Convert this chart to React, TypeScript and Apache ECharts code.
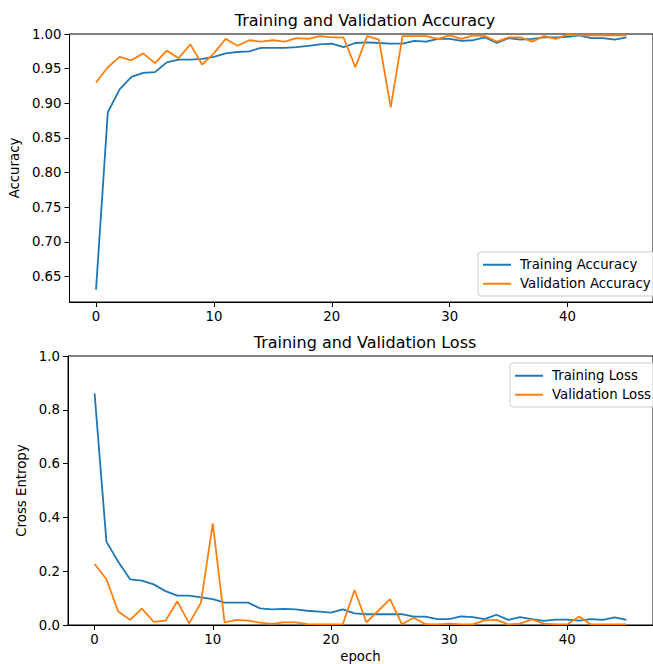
import React, { useEffect, useRef } from "react";
import * as echarts from "echarts";

const epochs = [0, 1, 2, 3, 4, 5, 6, 7, 8, 9, 10, 11, 12, 13, 14, 15, 16, 17, 18, 19, 20, 21, 22, 23, 24, 25, 26, 27, 28, 29, 30, 31, 32, 33, 34, 35, 36, 37, 38, 39, 40, 41, 42, 43, 44, 45];

const trainAcc = [0.631, 0.887, 0.920, 0.938, 0.944, 0.945, 0.959, 0.963, 0.963, 0.964, 0.967, 0.972, 0.974, 0.975, 0.980, 0.980, 0.980, 0.981, 0.983, 0.985, 0.986, 0.981, 0.987, 0.988, 0.987, 0.986, 0.986, 0.990, 0.989, 0.993, 0.993, 0.990, 0.991, 0.995, 0.987, 0.994, 0.992, 0.993, 0.995, 0.995, 0.996, 0.998, 0.994, 0.994, 0.992, 0.995];
const valAcc = [0.930, 0.952, 0.967, 0.962, 0.972, 0.958, 0.976, 0.965, 0.985, 0.956, 0.972, 0.993, 0.983, 0.991, 0.989, 0.991, 0.989, 0.994, 0.993, 0.997, 0.995, 0.995, 0.952, 0.997, 0.992, 0.894, 0.997, 0.997, 0.997, 0.993, 0.998, 0.993, 0.998, 0.997, 0.989, 0.995, 0.995, 0.989, 0.997, 0.993, 0.999, 0.998, 0.998, 0.998, 0.998, 0.998];
const trainLoss = [0.861, 0.310, 0.235, 0.170, 0.165, 0.151, 0.126, 0.109, 0.109, 0.103, 0.096, 0.083, 0.083, 0.083, 0.062, 0.058, 0.060, 0.058, 0.053, 0.050, 0.046, 0.058, 0.043, 0.040, 0.040, 0.040, 0.040, 0.031, 0.031, 0.022, 0.022, 0.032, 0.029, 0.022, 0.038, 0.019, 0.029, 0.022, 0.015, 0.020, 0.020, 0.016, 0.022, 0.019, 0.028, 0.019];
const valLoss = [0.227, 0.170, 0.050, 0.019, 0.061, 0.012, 0.016, 0.088, 0.006, 0.083, 0.378, 0.010, 0.019, 0.016, 0.009, 0.004, 0.010, 0.010, 0.003, 0.002, 0.002, 0.003, 0.130, 0.010, 0.053, 0.096, 0.003, 0.027, 0.003, 0.002, 0.005, 0.002, 0.002, 0.017, 0.019, 0.002, 0.005, 0.021, 0.005, 0.002, 0.002, 0.032, 0.002, 0.002, 0.002, 0.002];

const xTicks = [0, 10, 20, 30, 40];
const accTicks = [0.65, 0.7, 0.75, 0.8, 0.85, 0.9, 0.95, 1.0];

const FONT = "DejaVu Sans";
const FS = 13.3;
const BLUE = "#1f77b4";
const ORANGE = "#ff7f0e";

export default function App() {
  const ref = useRef<HTMLDivElement>(null);
  useEffect(() => {
    const chart = echarts.init(ref.current!, null, { renderer: "svg" });
    const pair = (ys: number[]) => epochs.map((e, i) => [e, ys[i]]);
    const xAxisBase = (gridIndex: number, name: string) => ({
      type: "value",
      gridIndex,
      min: -2.25,
      max: 47.25,
      name,
      nameLocation: "middle",
      nameGap: 25,
      nameTextStyle: { fontFamily: FONT, fontSize: FS, color: "#000" },
      axisLine: { show: true, onZero: false, lineStyle: { color: "#000", width: 1 } },
      axisTick: { show: true, inside: false, length: 5, customValues: xTicks, lineStyle: { color: "#000" } },
      axisLabel: { customValues: xTicks, margin: 8, fontFamily: FONT, fontSize: FS, color: "#000" },
      splitLine: { show: false },
    });
    const lineSeries = (name: string, ys: number[], color: string, idx: number) => ({
      type: "line",
      name,
      xAxisIndex: idx,
      yAxisIndex: idx,
      data: pair(ys),
      symbol: "none",
      showSymbol: false,
      lineStyle: { color, width: 1.8 },
      itemStyle: { color },
      z: 3,
    });
    const legendBase = {
      orient: "vertical",
      icon: "rect",
      itemWidth: 28,
      itemHeight: 2,
      itemGap: 3.5,
      padding: [5, 6, 4.5, 5],
      backgroundColor: "rgba(255,255,255,0.8)",
      borderColor: "#cccccc",
      borderWidth: 1,
      borderRadius: 3,
      textStyle: { fontFamily: FONT, fontSize: FS, color: "#000", lineHeight: 15.5, padding: [0, 0, 0, 4] },
    };
    const yLine = { show: true, onZero: false, lineStyle: { color: "#000", width: 1 } };
    chart.setOption({
      animation: false,
      backgroundColor: "#fff",
      grid: [
        { left: 68, top: 34, width: 594, height: 268, show: true, borderColor: "#000", borderWidth: 1, backgroundColor: "transparent" },
        { left: 68, top: 356, width: 594, height: 269, show: true, borderColor: "#000", borderWidth: 1, backgroundColor: "transparent" },
      ],
      xAxis: [xAxisBase(0, ""), xAxisBase(1, "epoch")],
      yAxis: [
        {
          type: "value",
          gridIndex: 0,
          min: 0.6131,
          max: 1.0,
          name: "Accuracy",
          nameLocation: "middle",
          nameGap: 45,
          nameTextStyle: { fontFamily: FONT, fontSize: FS, color: "#000" },
          axisLine: yLine,
          axisTick: { show: true, inside: false, length: 5, customValues: accTicks, lineStyle: { color: "#000" } },
          axisLabel: { customValues: accTicks, margin: 8, fontFamily: FONT, fontSize: FS, color: "#000", formatter: (v: number) => v.toFixed(2) },
          splitLine: { show: false },
        },
        {
          type: "value",
          gridIndex: 1,
          min: 0,
          max: 1,
          interval: 0.2,
          name: "Cross Entropy",
          nameLocation: "middle",
          nameGap: 34,
          nameTextStyle: { fontFamily: FONT, fontSize: FS, color: "#000" },
          axisLine: yLine,
          axisTick: { show: true, inside: false, length: 5, lineStyle: { color: "#000" } },
          axisLabel: { margin: 8, fontFamily: FONT, fontSize: FS, color: "#000", formatter: (v: number) => v.toFixed(1) },
          splitLine: { show: false },
        },
      ],
      legend: [
        { ...legendBase, data: ["Training Accuracy", "Validation Accuracy"], left: 478, top: 252 },
        { ...legendBase, data: ["Training Loss", "Validation Loss"], left: 510, top: 363 },
      ],
      graphic: [
        { type: "text", x: 365, y: 20, style: { text: "Training and Validation Accuracy", font: `16px "${FONT}"`, fill: "#000", textAlign: "center", textVerticalAlign: "middle" } },
        { type: "text", x: 365, y: 342, style: { text: "Training and Validation Loss", font: `16px "${FONT}"`, fill: "#000", textAlign: "center", textVerticalAlign: "middle" } },
      ],
      series: [
        lineSeries("Training Accuracy", trainAcc, BLUE, 0),
        lineSeries("Validation Accuracy", valAcc, ORANGE, 0),
        lineSeries("Training Loss", trainLoss, BLUE, 1),
        lineSeries("Validation Loss", valLoss, ORANGE, 1),
      ],
    });
    return () => chart.dispose();
  }, []);
  return <div ref={ref} style={{ position: "fixed", left: 0, top: 0, width: 653, height: 664 }} />;
}
